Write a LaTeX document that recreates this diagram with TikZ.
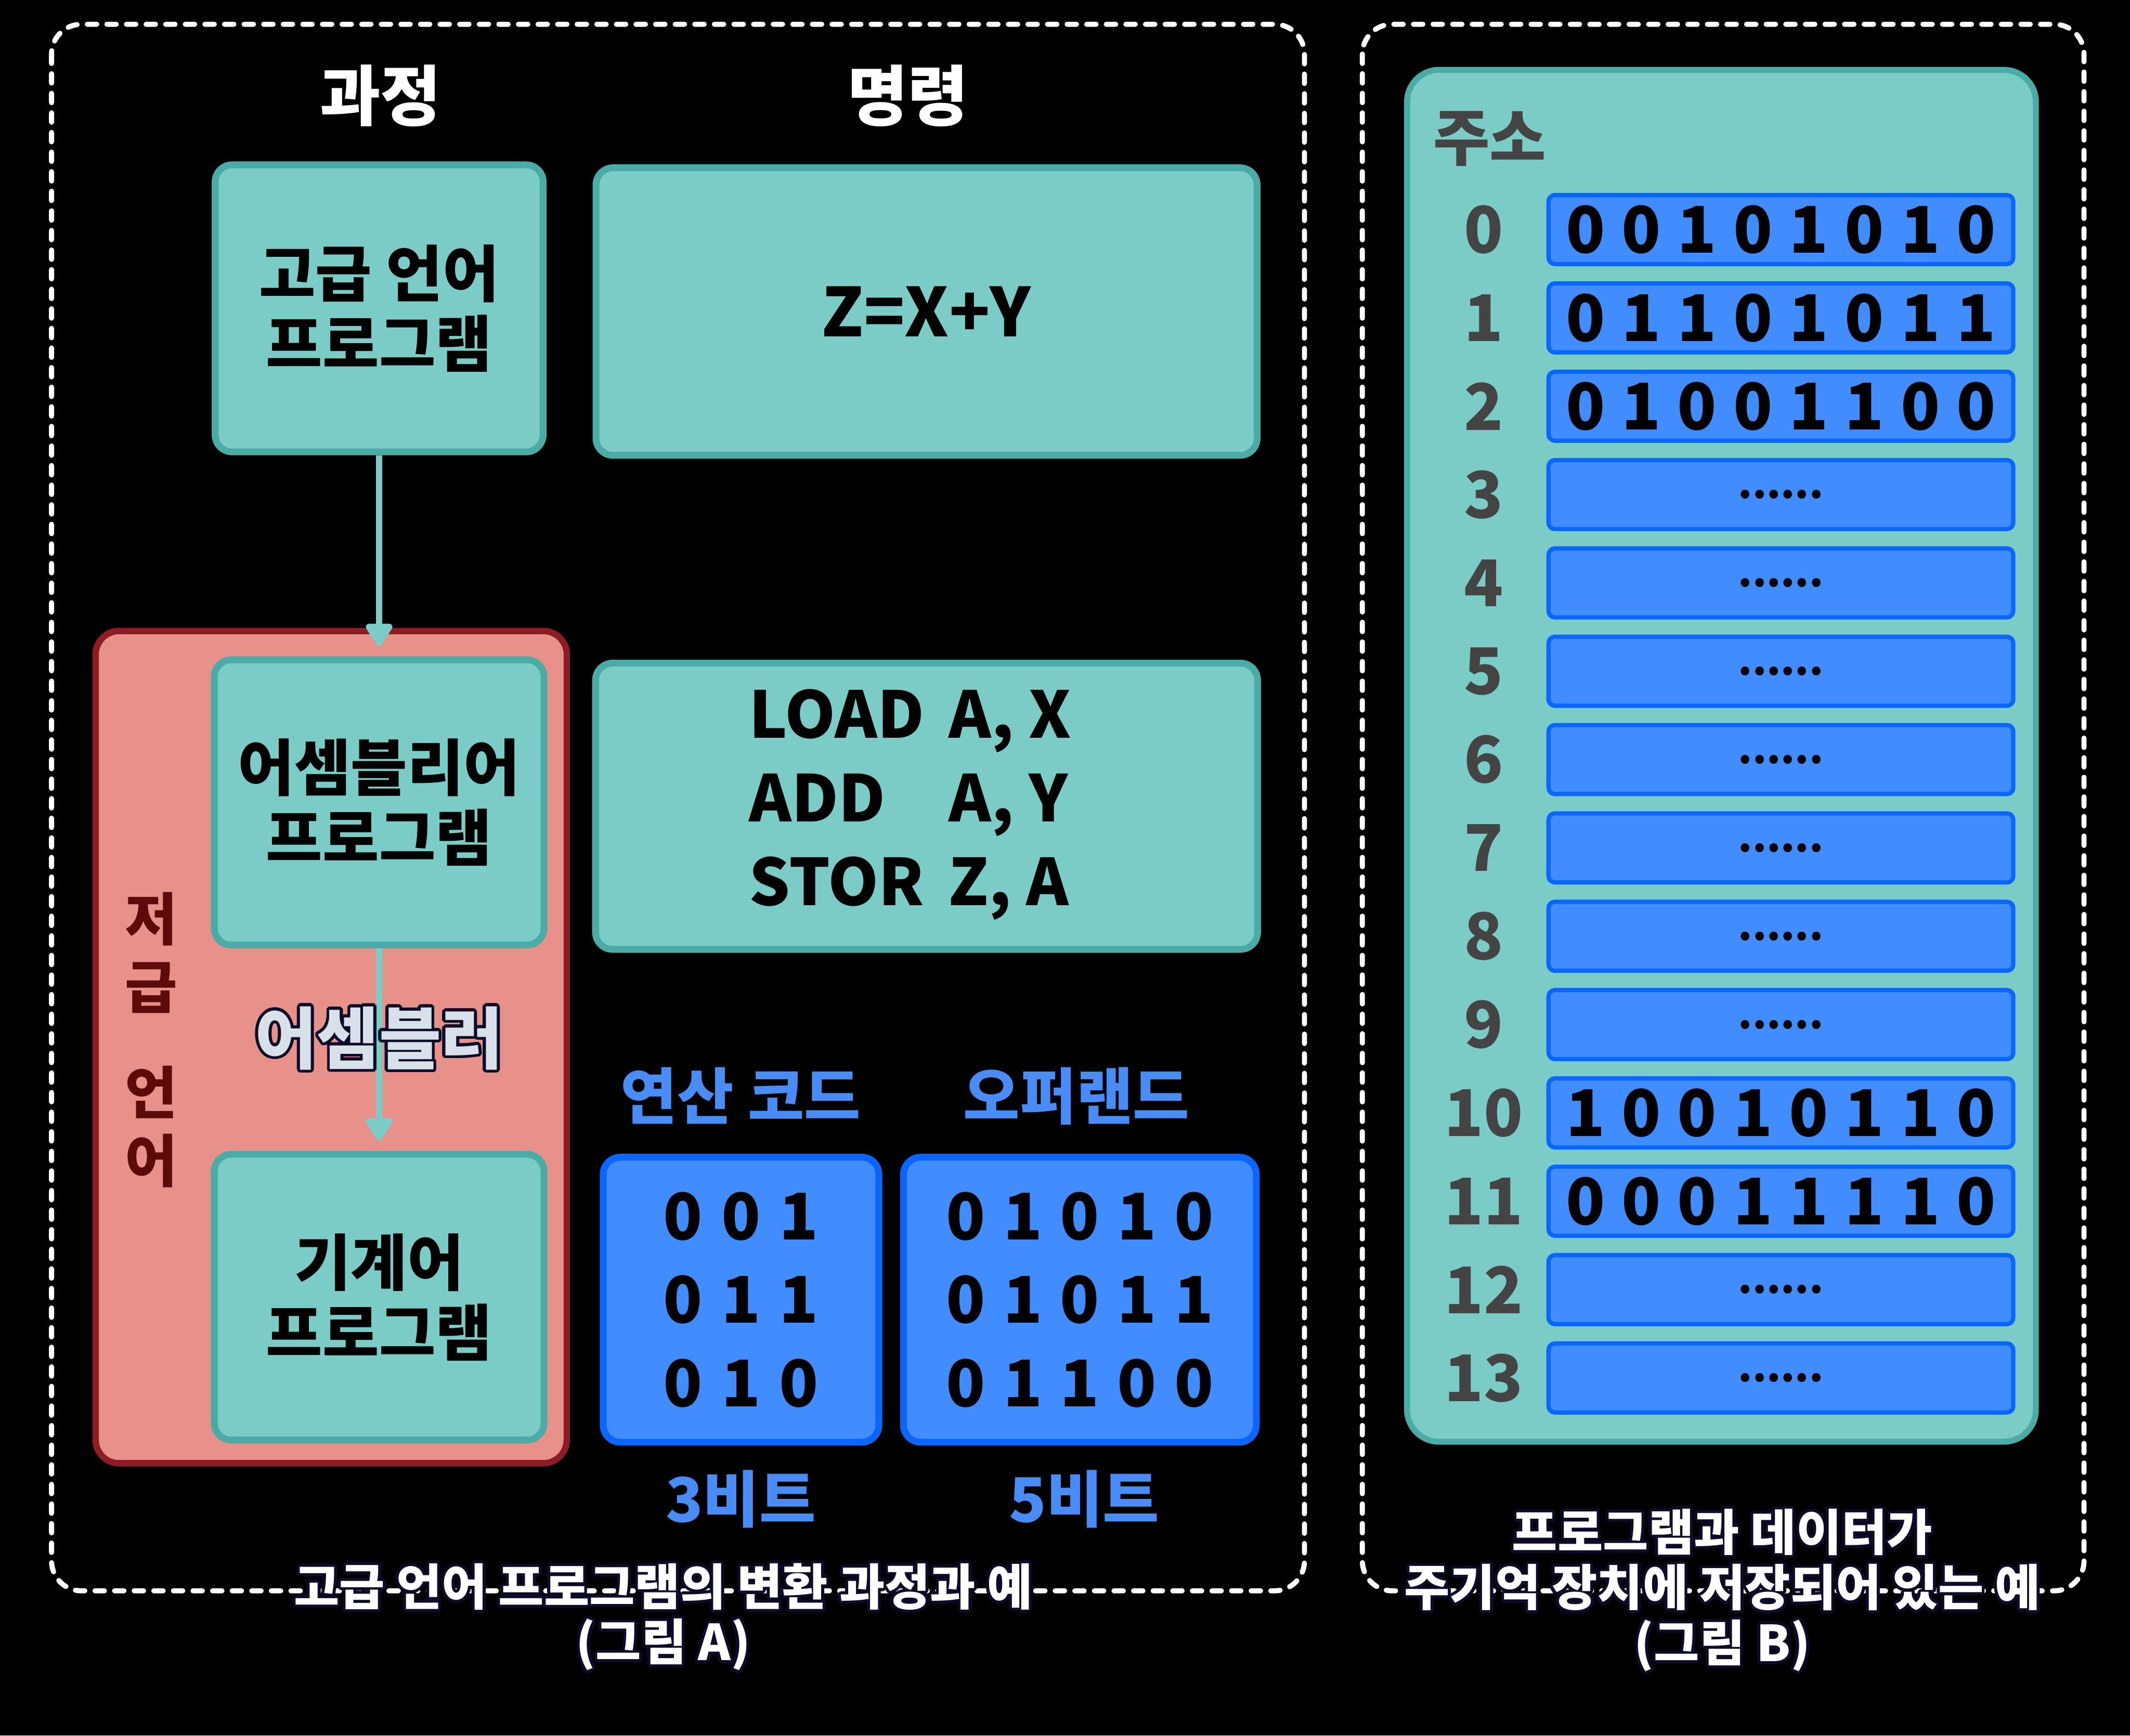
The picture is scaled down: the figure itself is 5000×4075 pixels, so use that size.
\documentclass[tikz,border=0pt]{standalone}
\usepackage{fontspec}
\setmainfont{Noto Sans CJK KR}
\usepackage{contour}
\usetikzlibrary{arrows.meta}
\definecolor{tealfill}{HTML}{7BCBC6}
\definecolor{tealline}{HTML}{4BABA6}
\definecolor{lowfill}{HTML}{E8918B}
\definecolor{lowline}{HTML}{8E1C24}
\definecolor{lowtext}{HTML}{5C0A0A}
\definecolor{bitfill}{HTML}{418CFF}
\definecolor{bitline}{HTML}{0A66FF}
\definecolor{bitlabel}{HTML}{4A8CF6}
\definecolor{addrgray}{HTML}{444444}
\definecolor{capline}{HTML}{0C0C28}
\definecolor{asmfill}{HTML}{D8E0EA}
\newlength\bitw
\setlength\bitw{13.1mm}
\def\bits#1{\ifx#1\relax\else\makebox[\bitw]{#1}\expandafter\bits\fi}
\newcommand\dotsrow{{\fontsize{27pt}{27pt}\selectfont......}}
\contourlength{0.7mm}

\begin{document}
\begin{tikzpicture}[x=0.1mm, y=-0.1mm,
	kor/.style={font=\fontsize{41pt}{47pt}\selectfont\bfseries},
	digit/.style={font=\fontsize{43pt}{55.8pt}\selectfont\bfseries},
	tealbox/.style={draw=tealline, fill=tealfill, line width=1.6mm, rounded corners=4mm, align=center, inner sep=0pt},
	bitbox/.style={draw=bitline, fill=bitfill, line width=1.6mm, rounded corners=4mm, align=center, inner sep=0pt},
	cell/.style={draw=bitline, fill=bitfill, line width=1mm, rounded corners=1.5mm, minimum width=109.1mm, minimum height=16.2mm, inner sep=0pt},
	flow/.style={draw=tealfill, line width=1.5mm, -{Triangle[width=7mm,length=6mm,round]}, shorten >=2.4mm},
	frame/.style={draw=white, line width=1.2mm, dash pattern=on 2.2mm off 2.4mm, line cap=round, rounded corners=7mm},
	caption/.style={text=white, align=center, font=\fontsize{33pt}{37pt}\selectfont\bfseries}]
	\fill[black] (0,0) rectangle (5000,4075);
	\useasboundingbox (0,0) rectangle (5000,4075);
	\draw[frame] (121,57) rectangle (3062,3735);
	\draw[frame] (3198,57) rectangle (4892,3735);
	\node[kor, text=white, font=\fontsize{44pt}{47pt}\selectfont\bfseries] (hproc) at (893,225) {과정};
	\node[kor, text=white, font=\fontsize{44pt}{47pt}\selectfont\bfseries] (hcmd) at (2131,225) {명령};
	\node[draw=lowline, fill=lowfill, line width=1.5mm, rounded corners=5.5mm, minimum width=110.6mm, minimum height=195.4mm] (low) at (777.5,2458.5) {};
	\node[text=lowtext, align=center, font=\fontsize{38pt}{45.5pt}\selectfont\bfseries] (lowlbl) at (355,2441) {저\\급\\[8.8mm]언\\어};
	\node[tealbox, kor, minimum width=77mm, minimum height=67.4mm] (high) at (890,724) {고급 언어\\프로그램};
	\node[tealbox, minimum width=155.2mm, minimum height=67.5mm, font=\fontsize{45pt}{50pt}\selectfont\bfseries] (zxy) at (2175,731.5) {Z=X+Y};
	\node[tealbox, kor, minimum width=77.4mm, minimum height=67mm] (asmp) at (890,1884) {어셈블리어\\프로그램};
	\node[tealbox, kor, minimum width=77.4mm, minimum height=67.1mm] (mach) at (890,3045.5) {기계어\\프로그램};
	\draw[flow] (high.south) -- (asmp.north);
	\draw[flow] (asmp.south) -- node[pos=0.45, text=asmfill, font=\fontsize{45pt}{48pt}\selectfont\bfseries] (asmb) {\contour{capline}{어셈블러}} (mach.north);
	\node[tealbox, minimum width=155.4mm, minimum height=67.2mm] (asm) at (2175,1893) {};
	\node[digit, anchor=west, inner sep=0pt] (asmtxt) at (1758,1890) {\begin{tabular}{@{}p{46.9mm}@{}l@{}}LOAD & A, X\\ ADD & A, Y\\ STOR & Z, A\end{tabular}};
	\node[kor, text=bitlabel] (opl) at (1739,2573) {연산 코드};
	\node[kor, text=bitlabel] (oprl) at (2527,2573) {오퍼랜드};
	\node[bitbox, digit, minimum width=64.7mm, minimum height=66.9mm, execute at begin node=\setlength\bitw{13.6mm}] (opc) at (1739.5,3051.5) {\bits 001\relax\\\bits 011\relax\\\bits 010\relax};
	\node[bitbox, digit, minimum width=82.8mm, minimum height=66.9mm, execute at begin node=\setlength\bitw{13.4mm}] (opr) at (2535,3051.5) {\bits 01010\relax\\\bits 01011\relax\\\bits 01100\relax};
	\node[kor, text=bitlabel] (opw) at (1739,3520) {3비트};
	\node[kor, text=bitlabel] (oprw) at (2545,3520) {5비트};
	\node[draw=tealline, fill=tealfill, line width=1.4mm, rounded corners=7.5mm, minimum width=147.6mm, minimum height=322.1mm] (mem) at (4041,1774.5) {};
	\node[kor, text=addrgray, anchor=west] (addr) at (3352,326) {주소};
	\foreach \n/\v in {0/{\bits 00101010\relax},1/{\bits 01101011\relax},2/{\bits 01001100\relax},3/\dotsrow,4/\dotsrow,5/\dotsrow,6/\dotsrow,7/\dotsrow,8/\dotsrow,9/\dotsrow,10/{\bits 10010110\relax},11/{\bits 00011110\relax},12/\dotsrow,13/\dotsrow} {
		\node[digit, text=addrgray] (a\n) at (3483,{539+207.4*\n}) {\n};
		\node[cell, digit] (c\n) at (4180.5,{539+207.4*\n}) {\v};
	}
	\node[caption] (capA) at (1557,3800) {\contour{capline}{고급 언어 프로그램의 변환 과정과 예}\\\contour{capline}{(그림 A)}};
	\node[caption] (capB) at (4043,3737) {\contour{capline}{프로그램과 데이터가}\\\contour{capline}{주기억 장치에 저장되어 있는 예}\\\contour{capline}{(그림 B)}};
\end{tikzpicture}
\end{document}
